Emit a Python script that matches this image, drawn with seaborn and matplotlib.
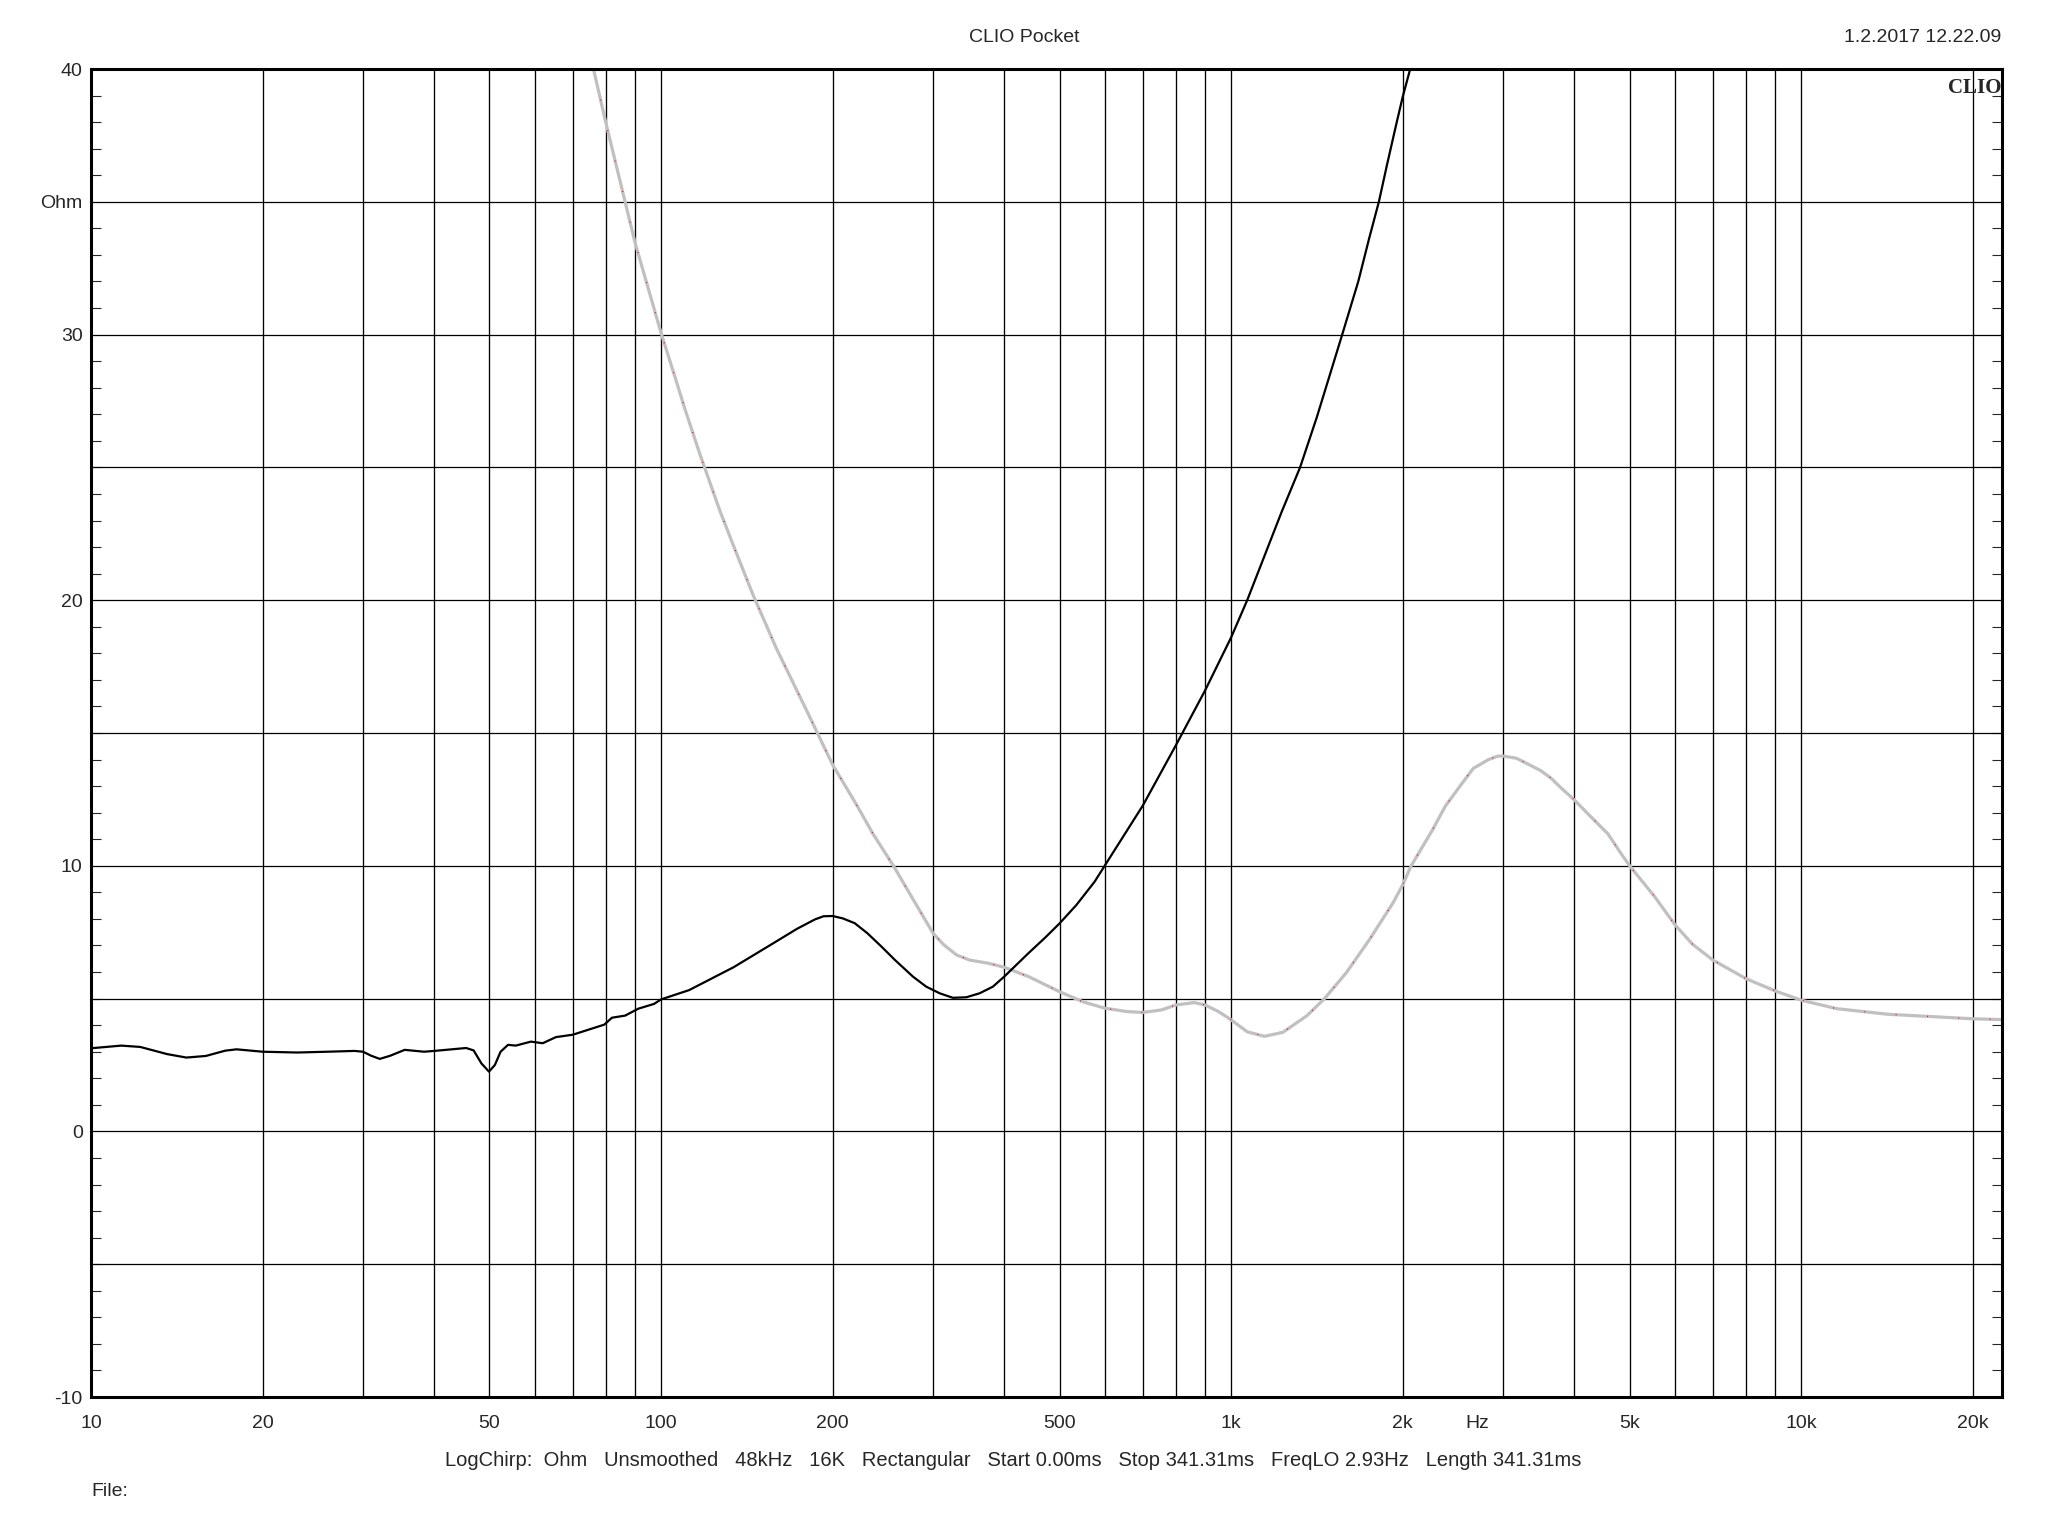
import matplotlib
matplotlib.use('Agg')
import matplotlib.pyplot as plt
from matplotlib.ticker import MultipleLocator, NullLocator
import numpy as np
import pandas as pd
import seaborn as sns

sns.set_style('white')
plt.rcParams['font.family'] = ['Liberation Sans', 'DejaVu Sans']

# impedance curve (black)
freq_black = [10, 11.3, 12.2, 13.6, 14.7, 15.9, 17.2, 18.0, 20, 23, 26, 29, 30, 31, 32.1, 33.5,
              35.5, 38.4, 40, 45.5, 46.9, 48.4, 49.9, 51.1, 52.3, 53.9, 55.6, 59.1, 62, 65.4,
              70, 74.6, 79.5, 82, 86.5, 91.2, 97.2, 100, 112, 134, 160.6, 172.9, 186.1, 192.7,
              200, 208.3, 218.6, 230.1, 243.5, 257.3, 276.5, 291.8, 308.1, 325, 343.1, 362, 382,
              400, 441, 472, 500, 535, 576, 700, 800, 900, 1000, 1067, 1226, 1321, 1413,
              1491, 1566, 1671, 1747, 1816, 1877, 1952, 2000, 2061]
ohm_black = [3.13, 3.23, 3.18, 2.91, 2.78, 2.84, 3.04, 3.09, 3.0, 2.97, 3.0, 3.03, 3.0, 2.85, 2.73, 2.85,
             3.07, 3.0, 3.03, 3.14, 3.05, 2.56, 2.25, 2.5, 3.0, 3.26, 3.23, 3.38, 3.32, 3.55,
             3.64, 3.83, 4.02, 4.28, 4.36, 4.62, 4.8, 4.97, 5.32, 6.18, 7.2, 7.62, 7.98, 8.1,
             8.11, 8.02, 7.84, 7.46, 6.96, 6.45, 5.83, 5.45, 5.2, 5.03, 5.05, 5.2, 5.45,
             5.83, 6.71, 7.3, 7.83, 8.52, 9.4, 12.27, 14.54, 16.6, 18.6, 20.0, 23.32, 25.0, 26.88,
             28.51, 30.0, 32.0, 33.64, 35.0, 36.4, 38.0, 38.96, 40.0]

# second curve (gray)
freq_gray = [76.1, 80, 90, 100, 105.9, 110.1, 117.0, 126.8, 134.6, 145, 159.2, 181.4, 200, 220.2,
             235.4, 255.6, 276.5, 300, 313.5, 330, 348, 375.2, 400, 441, 500, 549.6, 600, 657.5,
             700, 753.9, 800, 861.6, 900, 950.6, 1000, 1067, 1144, 1232, 1357, 1458, 1593, 1752,
             1926, 2000, 2069, 2255, 2376, 2528, 2660, 2828, 2937, 3000, 3166, 3296, 3494, 3639,
             3796, 4000, 4246, 4582, 4806, 5000, 5527, 6000, 6443, 7000, 8000, 9000, 10000,
             11550, 14200, 20000, 22400]
ohm_gray = [40.0, 37.98, 33.47, 30.06, 28.37, 27.2, 25.49, 23.37, 21.94, 20.2, 18.2, 15.7, 13.8, 12.3,
            11.2, 10.0, 8.75, 7.46, 7.02, 6.64, 6.45, 6.33, 6.18, 5.83, 5.26, 4.88, 4.64, 4.51,
            4.48, 4.57, 4.76, 4.85, 4.76, 4.51, 4.2, 3.75, 3.58, 3.73, 4.35, 5.0, 5.98, 7.25,
            8.63, 9.29, 10.0, 11.35, 12.25, 13.04, 13.67, 14.0, 14.13, 14.13, 14.05, 13.86, 13.58, 13.3,
            12.92, 12.48, 11.91, 11.2, 10.53, 10.0, 8.85, 7.79, 7.05, 6.45, 5.75, 5.29, 4.94,
            4.62, 4.41, 4.24, 4.21]

xtick_vals = [10, 20, 50, 100, 200, 500, 1000, 2000, 2700, 5000, 10000, 20000]
xtick_labels = ['10', '20', '50', '100', '200', '500', '1k', '2k', 'Hz', '5k', '10k', '20k']
ytick_vals = [40, 35, 30, 20, 10, 0, -10]
ytick_labels = ['40', 'Ohm', '30', '20', '10', '0', '-10']

df_black = pd.DataFrame({'f': freq_black, 'z': ohm_black})
df_gray = pd.DataFrame({'f': freq_gray, 'z': ohm_gray})

fig = plt.figure(figsize=(20.48, 15.36), dpi=100)
ax = fig.add_axes([91 / 2048, 1 - 1397 / 1536, (2002 - 91) / 2048, (1397 - 69) / 1536])
ax.set_xscale('log')
ax.set_xlim(10, 22500)
ax.set_ylim(-10, 40)

# grid
for e in range(1, 5):
    for m in range(1, 10):
        f = m * 10 ** e
        if 10 < f < 22500:
            ax.axvline(f, color='black', lw=0.95, zorder=1)
for yv in range(-5, 40, 5):
    ax.axhline(yv, color='black', lw=0.9, zorder=1)

sns.lineplot(data=df_gray, x='f', y='z', ax=ax, color='#c0c0c0', lw=2.3, estimator=None, sort=False, zorder=3)
sns.lineplot(data=df_gray, x='f', y='z', ax=ax, color='red', lw=1.0, estimator=None, sort=False,
             zorder=4, linestyle=(0, (0.6, 22)))
sns.lineplot(data=df_black, x='f', y='z', ax=ax, color='black', lw=1.6, estimator=None, sort=False, zorder=5)

ax.set_xticks(xtick_vals)
ax.set_xticklabels(xtick_labels)
ax.xaxis.set_minor_locator(NullLocator())
ax.set_yticks(ytick_vals)
ax.set_yticklabels(ytick_labels)
ax.yaxis.set_minor_locator(MultipleLocator(1))
ax.tick_params(axis='x', which='major', length=0, pad=13, labelsize=14)
ax.tick_params(axis='y', which='major', length=0, pad=6, labelsize=14)
ax.tick_params(axis='y', which='minor', direction='in', length=7, width=0.8, left=True, right=True)
ax.set_xlabel('')
ax.set_ylabel('')
for s in ax.spines.values():
    s.set_linewidth(2.2)
    s.set_color('black')
    s.set_zorder(6)

ax.text(0.9995, 0.993, 'CLIO', transform=ax.transAxes, ha='right', va='top', fontsize=15,
        fontweight='bold', family=['Liberation Serif', 'DejaVu Serif'], zorder=7)

fig.text(0.5, 1 - 37 / 1536, 'CLIO Pocket', ha='center', va='center', fontsize=14)
fig.text(2001 / 2048, 1 - 37 / 1536, '1.2.2017 12.22.09', ha='right', va='center', fontsize=14)
fig.text(1013 / 2048, 1 - 1460 / 1536,
         'LogChirp:  Ohm   Unsmoothed   48kHz   16K   Rectangular   Start 0.00ms   '
         'Stop 341.31ms   FreqLO 2.93Hz   Length 341.31ms',
         ha='center', va='center', fontsize=14.5)
fig.text(91 / 2048, 1 - 1492 / 1536, 'File:', ha='left', va='center', fontsize=14)

fig.savefig('out.png', dpi=100, facecolor='white')
